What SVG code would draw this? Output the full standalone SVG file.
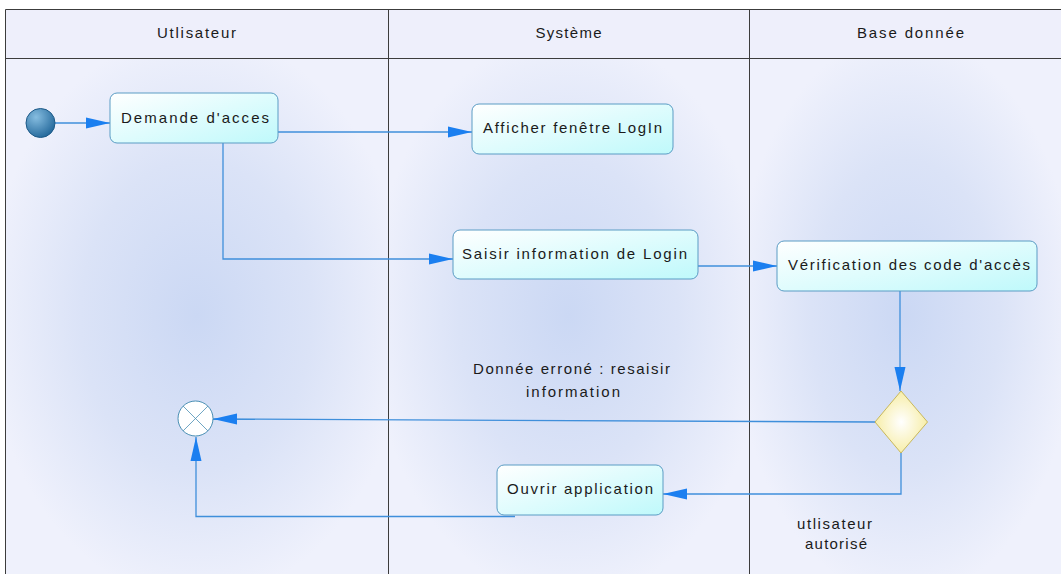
<svg xmlns="http://www.w3.org/2000/svg" width="1061" height="574" viewBox="0 0 1061 574">
  <defs>
    <style>
      .lane-hdr { fill: #eeeffb; }
      .frame { stroke: #3c3c3c; stroke-width: 1; fill: none; }
      .lbl { font-family: "Liberation Sans", Arial, sans-serif; font-size: 15px; fill: #1a1a1a; }
      .act { fill: url(#actFill); stroke: #5a9cc4; stroke-width: 1; }
      .flow { fill: none; stroke: #3f8fdb; stroke-width: 1.3; marker-end: url(#arrow); }
    </style>
    <radialGradient id="laneGlow" cx="50%" cy="50%" r="55%">
      <stop offset="0%" stop-color="#cbd8f4"/>
      <stop offset="55%" stop-color="#dbe3f7"/>
      <stop offset="100%" stop-color="#eff1fc"/>
    </radialGradient>
    <linearGradient id="actFill" x1="0" y1="0" x2="1" y2="1">
      <stop offset="0%" stop-color="#ffffff"/>
      <stop offset="100%" stop-color="#bff9fb"/>
    </linearGradient>
    <radialGradient id="startFill" cx="35%" cy="30%" r="75%">
      <stop offset="0%" stop-color="#86bde0"/>
      <stop offset="100%" stop-color="#22679a"/>
    </radialGradient>
    <radialGradient id="decFill" cx="50%" cy="50%" r="55%">
      <stop offset="0%" stop-color="#ffffff"/>
      <stop offset="100%" stop-color="#f6eca0"/>
    </radialGradient>
    <marker id="arrow" viewBox="0 0 24 12" refX="24" refY="6" markerWidth="24" markerHeight="12" markerUnits="userSpaceOnUse" orient="auto">
      <path d="M0,0.5 L24,6 L0,11.5 Z" fill="#1b7ff0"/>
    </marker>
  </defs>

  <rect width="1061" height="574" fill="#ffffff"/>

  <!-- swimlanes -->
  <g id="lanes">
    <rect x="5" y="58" width="383" height="516" fill="url(#laneGlow)"/>
    <rect x="388" y="58" width="361" height="516" fill="url(#laneGlow)"/>
    <rect x="749" y="58" width="312" height="516" fill="url(#laneGlow)"/>
    <rect class="lane-hdr" x="5" y="9" width="1056" height="49"/>
    <path class="frame" d="M1061,9.5 H5.5 V574 M5,58.5 H1061 M388.5,9 V574 M749.5,9 V574"/>
    <text class="lbl" x="196.5" y="38" text-anchor="middle" textLength="79" lengthAdjust="spacing">Utlisateur</text>
    <text class="lbl" x="568.5" y="38" text-anchor="middle" textLength="66" lengthAdjust="spacing">Système</text>
    <text class="lbl" x="910.5" y="38" text-anchor="middle" textLength="107" lengthAdjust="spacing">Base donnée</text>
  </g>

  <!-- control flows -->
  <g id="connectors">
    <path class="flow" d="M55,123 H110"/>
    <path class="flow" d="M278,132 H472"/>
    <path class="flow" d="M223,143 V259 H453"/>
    <path class="flow" d="M698,266 H777"/>
    <path class="flow" d="M900,291 V391"/>
    <path class="flow" d="M875,422 L213,419"/>
    <path class="flow" d="M901,453 V494 H663"/>
    <path class="flow" d="M515,516.5 H196 V437"/>
    <text class="lbl" x="473" y="374" textLength="197" lengthAdjust="spacing">Donnée erroné : resaisir</text>
    <text class="lbl" x="526" y="396.5" textLength="94" lengthAdjust="spacing">information</text>
    <text class="lbl" x="797" y="528.5" textLength="75" lengthAdjust="spacing">utlisateur</text>
    <text class="lbl" x="805" y="548.5" textLength="62" lengthAdjust="spacing">autorisé</text>
  </g>

  <!-- nodes -->
  <g id="start">
    <circle cx="40.5" cy="123" r="14.5" fill="url(#startFill)" stroke="#1d5a88" stroke-width="1"/>
  </g>
  <g id="demande-acces">
    <rect class="act" x="110" y="93" width="168" height="50" rx="7"/>
    <text class="lbl" x="121" y="122.5" textLength="148" lengthAdjust="spacing">Demande d'acces</text>
  </g>
  <g id="afficher-login">
    <rect class="act" x="472" y="104" width="201" height="50" rx="7"/>
    <text class="lbl" x="483" y="133" textLength="179" lengthAdjust="spacing">Afficher fenêtre LogIn</text>
  </g>
  <g id="saisir-login">
    <rect class="act" x="453" y="230" width="245" height="49" rx="7"/>
    <text class="lbl" x="462" y="258.5" textLength="225" lengthAdjust="spacing">Saisir information de Login</text>
  </g>
  <g id="verification">
    <rect class="act" x="777" y="241" width="260" height="50" rx="7"/>
    <text class="lbl" x="788" y="270" textLength="242" lengthAdjust="spacing">Vérification des code d'accès</text>
  </g>
  <g id="decision">
    <polygon points="901,391 927.5,422 901,453 875,422" fill="url(#decFill)" stroke="#c9b85a" stroke-width="1"/>
  </g>
  <g id="ouvrir-application">
    <rect class="act" x="497" y="465" width="166" height="50" rx="7"/>
    <text class="lbl" x="507" y="494" textLength="146" lengthAdjust="spacing">Ouvrir application</text>
  </g>
  <g id="flow-final">
    <circle cx="195.5" cy="418.5" r="17.5" fill="#ffffff" stroke="#4a8fb4" stroke-width="1"/>
    <path d="M183.1,406.1 L207.9,430.9 M207.9,406.1 L183.1,430.9" stroke="#4a8fb4" stroke-width="0.8"/>
  </g>
</svg>
